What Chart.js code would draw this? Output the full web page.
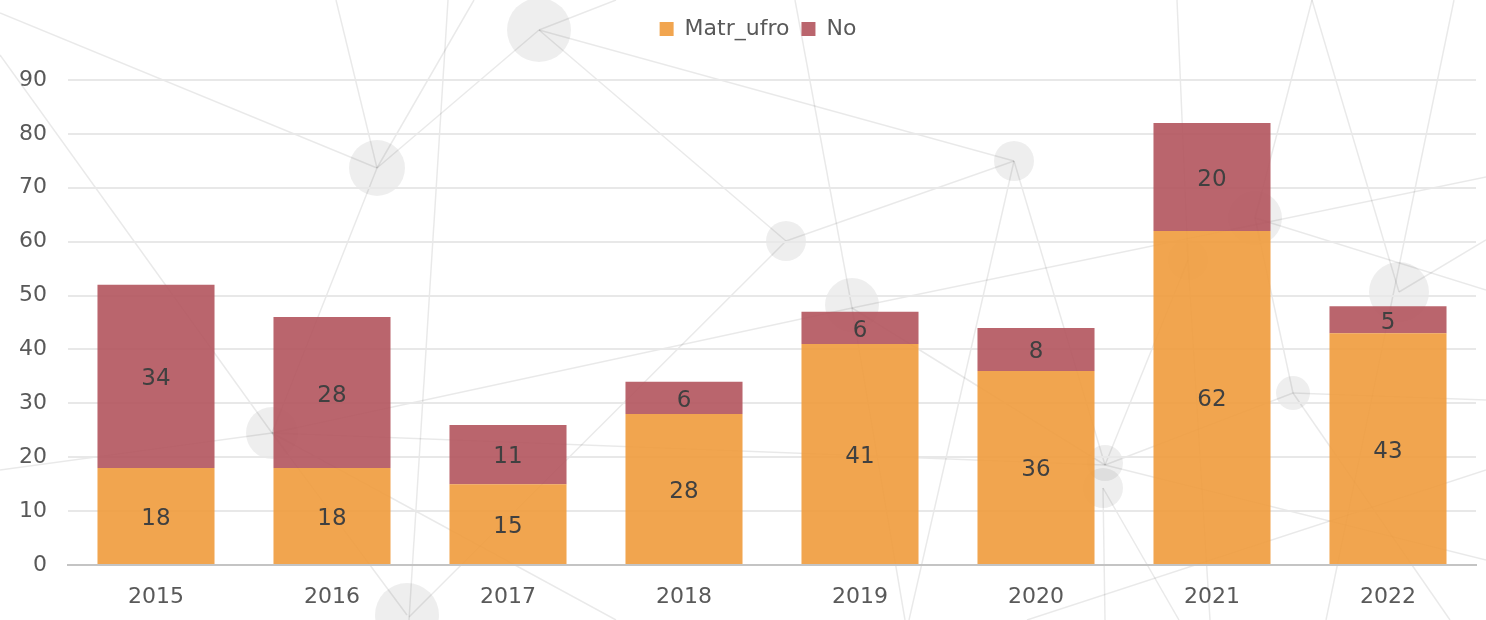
<!DOCTYPE html>
<html>
<head>
<meta charset="utf-8">
<script src="https://cdn.jsdelivr.net/npm/chart.js@4.4.1/dist/chart.umd.min.js"></script>
<style>
html,body{margin:0;padding:0;background:#fff;}
#wrap{width:1486px;height:620px;position:relative;}
</style>
</head>
<body>
<div id="wrap"><canvas id="c" width="1486" height="620"></canvas></div>
<script>
const categories = ['2015','2016','2017','2018','2019','2020','2021','2022'];
const matrUfro = [18, 18, 15, 28, 41, 36, 62, 43];
const noValues = [34, 28, 11, 6, 6, 8, 20, 5];
const seriesNames = ['Matr_ufro', 'No'];
const yTicks = [0,10,20,30,40,50,60,70,80,90];

// background decoration only (network pattern, not data)
const decoNodes = [[539,30,32],[377,168,28],[786,241,20],[1014,161,20],[852,305,27],[1255,218,27],[1188,260,20],[1399,292,30],[1293,393,17],[1105,463,18],[1103,488,20],[272,433,26],[407,615,32]];
const decoLines = [
  [0,13,377,168],[0,55,272,433],[0,470,272,433],[272,433,407,615],[377,168,272,433],
  [336,0,377,168],[474,0,377,168],[448,0,409,620],[539,30,377,168],[539,30,616,0],
  [539,30,1014,161],[539,30,786,241],[786,241,409,617],[786,241,1014,161],
  [795,0,852,308],[852,308,905,620],[852,308,1486,177],[272,433,852,308],[272,433,1105,465],
  [272,433,616,620],[1014,161,909,620],[1014,161,1105,465],[1177,0,1188,260],
  [1312,0,1255,218],[1255,218,1293,393],[1255,218,1486,290],[1312,0,1399,292],[1454,0,1326,620],
  [1399,292,1486,240],[852,308,1105,465],[1105,465,1293,393],[1293,393,1486,400],[1293,393,1450,620],
  [1105,465,1486,560],[1103,488,1105,620],[1103,488,1179,620],[1105,465,1188,260],[1027,620,1486,470],
  [1188,260,1210,620]
];

const FONT = "'DejaVu Sans', sans-serif";

const bgPlugin = {
  id: 'bgDeco',
  beforeDraw(chart) {
    const ctx = chart.ctx;
    ctx.save();
    ctx.fillStyle = '#fff';
    ctx.fillRect(0,0,chart.width,chart.height);
    ctx.strokeStyle = 'rgba(0,0,0,0.085)';
    ctx.lineWidth = 1.5;
    decoLines.forEach(l => { ctx.beginPath(); ctx.moveTo(l[0],l[1]); ctx.lineTo(l[2],l[3]); ctx.stroke(); });
    ctx.fillStyle = 'rgba(0,0,0,0.065)';
    decoNodes.forEach(n => { ctx.beginPath(); ctx.arc(n[0],n[1],n[2],0,Math.PI*2); ctx.fill(); });
    ctx.restore();
  }
};

const legendSpace = {
  id: 'legendSpace',
  afterInit(chart) {
    const lg = chart.legend;
    if (!lg) return;
    const orig = lg.fit.bind(lg);
    lg.fit = function() { orig(); this.height += 30; };
  },
  afterLayout(chart) {
    const lg = chart.legend;
    if (!lg) return;
    lg.left += 20; lg.right += 20;
  }
};

const labelPlugin = {
  id: 'valLabels',
  afterDatasetsDraw(chart) {
    const ctx = chart.ctx;
    ctx.save();
    ctx.font = "23px " + FONT;
    ctx.fillStyle = '#404040';
    ctx.textAlign = 'center';
    ctx.textBaseline = 'middle';
    chart.data.datasets.forEach((ds, i) => {
      const meta = chart.getDatasetMeta(i);
      meta.data.forEach((bar, j) => {
        const p = bar.getProps(['x','y','base'], true);
        ctx.fillText(String(ds.data[j]), p.x, (p.y + p.base) / 2 + 3);
      });
    });
    ctx.restore();
  }
};

new Chart(document.getElementById('c'), {
  type: 'bar',
  data: {
    labels: categories,
    datasets: [
      { label: seriesNames[0], data: matrUfro, backgroundColor: 'rgba(240,155,60,0.9)', barPercentage: 0.665, categoryPercentage: 1 },
      { label: seriesNames[1], data: noValues, backgroundColor: 'rgba(178,84,93,0.9)', barPercentage: 0.665, categoryPercentage: 1 }
    ]
  },
  options: {
    responsive: false,
    animation: false,
    layout: { padding: { left: 0, right: 10, top: 6, bottom: 0 } },
    plugins: {
      legend: {
        position: 'top',
        labels: {
          font: { family: FONT, size: 22 },
          color: '#595959',
          boxWidth: 14, boxHeight: 14,
          padding: 12
        }
      },
      tooltip: { enabled: false }
    },
    scales: {
      x: {
        stacked: true,
        grid: { display: false, drawTicks: false },
        border: { color: '#c4c4c4', width: 2 },
        ticks: { font: { family: FONT, size: 22 }, color: '#595959', padding: 19 },
        afterFit(scale) { scale.height = 55; }
      },
      y: {
        stacked: true,
        min: 0, max: 90,
        afterBuildTicks(axis) { axis.ticks = yTicks.map(v => ({ value: v })); },
        grid: { color: '#e8e8e8', lineWidth: 2, drawTicks: false },
        border: { display: false },
        ticks: { font: { family: FONT, size: 22 }, color: '#595959', padding: 21 },
        afterFit(scale) { scale.width = 68; }
      }
    }
  },
  plugins: [bgPlugin, legendSpace, labelPlugin]
});
</script>
</body>
</html>
